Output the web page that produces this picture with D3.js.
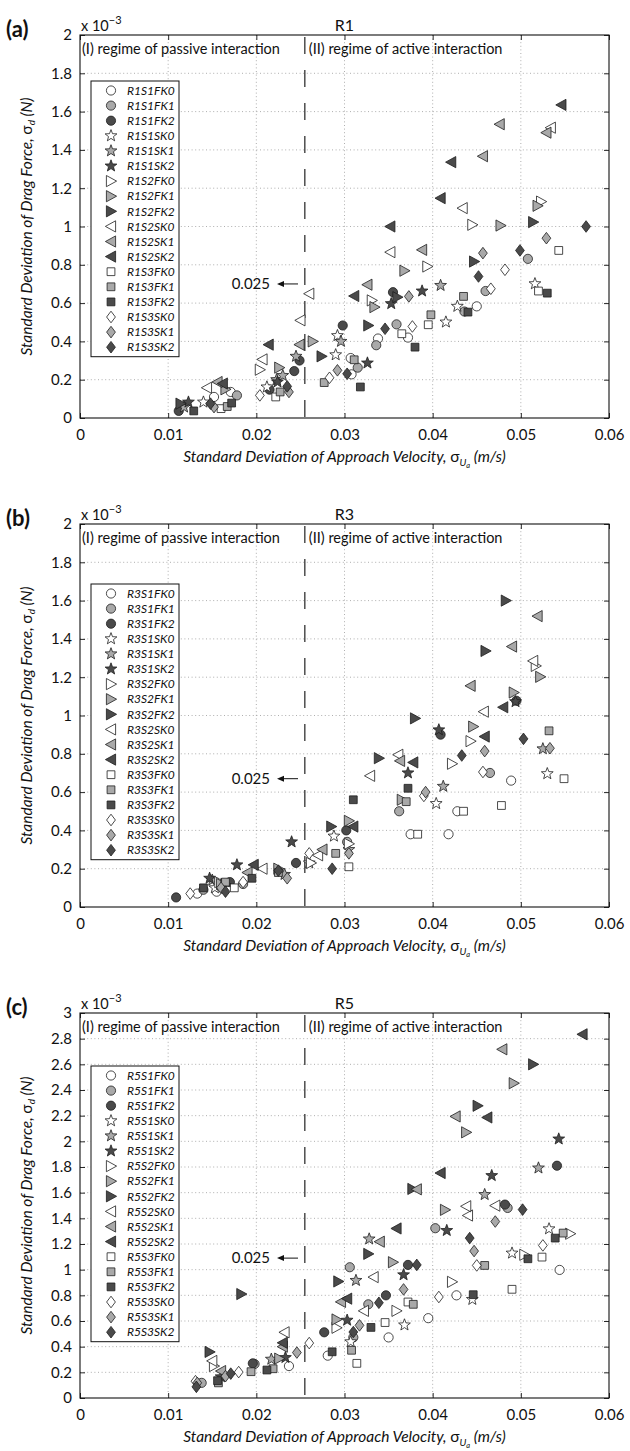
<!DOCTYPE html>
<html><head><meta charset="utf-8">
<script src="https://cdn.jsdelivr.net/npm/d3@7"></script>
<style>body{margin:0;background:#fff}svg{display:block}</style>
</head><body>
<svg id="chart" width="630" height="1451"></svg>
<script>
// ---------- axis ticks ----------
const xTickValues = [0, 0.01, 0.02, 0.03, 0.04, 0.05, 0.06];
const xTickLabels = ["0", "0.01", "0.02", "0.03", "0.04", "0.05", "0.06"];
const yTickValuesAB = [0, 0.2, 0.4, 0.6, 0.8, 1, 1.2, 1.4, 1.6, 1.8, 2];
const yTickLabelsAB = ["0", "0.2", "0.4", "0.6", "0.8", "1", "1.2", "1.4", "1.6", "1.8", "2"];
const yTickValuesC = [0, 0.2, 0.4, 0.6, 0.8, 1, 1.2, 1.4, 1.6, 1.8, 2, 2.2, 2.4, 2.6, 2.8, 3];
const yTickLabelsC = ["0", "0.2", "0.4", "0.6", "0.8", "1", "1.2", "1.4", "1.6", "1.8", "2", "2.2", "2.4", "2.6", "2.8", "3"];
const seriesNames = ["S1FK0","S1FK1","S1FK2","S1SK0","S1SK1","S1SK2","S2FK0","S2FK1","S2FK2","S2SK0","S2SK1","S2SK2","S3FK0","S3FK1","S3FK2","S3SK0","S3SK1","S3SK2"];
const runs = ["R1", "R3", "R5"];
const panelLetters = ["(a)", "(b)", "(c)"];
const thresholdVelocity = 0.0255;
const thresholdLabel = "0.025";
const annotationY = [0.70, 0.67, 1.09];

// ---------- data: [sigma_Ua (m/s), sigma_d (x1e-3 N)] ----------
// R1
const R1S1FK0 = [[0.0152,0.11],[0.0171,0.136],[0.0307,0.313],[0.0308,0.228],[0.0338,0.415],[0.0372,0.42],[0.0450,0.583]];
const R1S1FK1 = [[0.0178,0.118],[0.0315,0.263],[0.0336,0.38],[0.0359,0.489],[0.0436,0.556],[0.0460,0.663],[0.0508,0.831]];
const R1S1FK2 = [[0.0112,0.037],[0.0215,0.148],[0.0243,0.245],[0.0249,0.300],[0.0298,0.483],[0.0355,0.657]];
const R1S1SK0 = [[0.0140,0.083],[0.0212,0.162],[0.0290,0.33],[0.0292,0.43],[0.0415,0.501],[0.0428,0.583],[0.0516,0.701]];
const R1S1SK1 = [[0.0118,0.057],[0.0223,0.20],[0.0230,0.222],[0.0245,0.322],[0.0296,0.40],[0.0409,0.692]];
const R1S1SK2 = [[0.0123,0.083],[0.0224,0.188],[0.0326,0.287],[0.0353,0.597],[0.0388,0.663]];
const R1S2FK0 = [[0.0204,0.252],[0.0331,0.614],[0.0394,0.791],[0.0445,1.009],[0.0523,1.13]];
const R1S2FK1 = [[0.0165,0.15],[0.0226,0.263],[0.0264,0.40],[0.0334,0.579],[0.0368,0.769],[0.0477,1.005],[0.0519,1.108]];
const R1S2FK2 = [[0.0114,0.075],[0.0274,0.322],[0.0327,0.483],[0.0360,0.631],[0.0447,0.817],[0.0514,1.023]];
const R1S2SK0 = [[0.0144,0.158],[0.0207,0.306],[0.0250,0.51],[0.0260,0.649],[0.0352,0.866],[0.0434,1.096],[0.0534,1.516]];
const R1S2SK1 = [[0.0156,0.188],[0.0249,0.383],[0.0326,0.696],[0.0388,0.878],[0.0457,1.367],[0.0476,1.534],[0.0529,1.49]];
const R1S2SK2 = [[0.0162,0.18],[0.0214,0.383],[0.0311,0.637],[0.0352,1.0],[0.0409,1.148],[0.0421,1.336],[0.0546,1.635]];
const R1S3FK0 = [[0.0160,0.049],[0.0222,0.11],[0.0365,0.44],[0.0395,0.487],[0.0520,0.663],[0.0543,0.875]];
const R1S3FK1 = [[0.0167,0.06],[0.0227,0.136],[0.0277,0.185],[0.0311,0.304],[0.0398,0.539],[0.0435,0.635]];
const R1S3FK2 = [[0.0129,0.037],[0.0172,0.078],[0.0318,0.162],[0.0380,0.37],[0.0440,0.553],[0.0530,0.652]];
const R1S3SK0 = [[0.0204,0.118],[0.0283,0.21],[0.0377,0.478],[0.0466,0.675],[0.0482,0.774]];
const R1S3SK1 = [[0.0152,0.057],[0.0237,0.136],[0.0292,0.249],[0.0373,0.635],[0.0457,0.861],[0.0529,0.939]];
const R1S3SK2 = [[0.0148,0.075],[0.0235,0.165],[0.0303,0.231],[0.0346,0.466],[0.0452,0.739],[0.0499,0.875],[0.0574,1.0]];
// R3
const R3S1FK0 = [[0.0133,0.07],[0.0155,0.08],[0.0375,0.38],[0.0418,0.38],[0.0428,0.50],[0.0489,0.66]];
const R3S1FK1 = [[0.0140,0.09],[0.0185,0.12],[0.0303,0.34],[0.0362,0.50],[0.0465,0.70]];
const R3S1FK2 = [[0.0109,0.05],[0.0170,0.13],[0.0245,0.23],[0.0302,0.40],[0.0409,0.90],[0.0495,1.077]];
const R3S1SK0 = [[0.0153,0.10],[0.0260,0.23],[0.0288,0.37],[0.0404,0.54],[0.0530,0.696]];
const R3S1SK1 = [[0.0150,0.14],[0.0232,0.17],[0.0305,0.30],[0.0412,0.63],[0.0525,0.826]];
const R3S1SK2 = [[0.0147,0.15],[0.0178,0.22],[0.0240,0.34],[0.0372,0.70],[0.0407,0.925],[0.0494,1.072]];
const R3S2FK0 = [[0.0158,0.13],[0.0262,0.23],[0.0305,0.33],[0.0422,0.748],[0.0443,0.866],[0.0517,1.259]];
const R3S2FK1 = [[0.0160,0.12],[0.0225,0.20],[0.0305,0.45],[0.0365,0.56],[0.0446,0.942],[0.0492,1.12],[0.0522,1.202]];
const R3S2FK2 = [[0.0165,0.12],[0.0285,0.42],[0.0339,0.777],[0.0380,0.985],[0.0460,1.337],[0.0483,1.60]];
const R3S2SK0 = [[0.0207,0.20],[0.0270,0.27],[0.0329,0.685],[0.0361,0.795],[0.0458,1.02],[0.0514,1.285]];
const R3S2SK1 = [[0.0190,0.18],[0.0275,0.30],[0.0363,0.763],[0.0443,1.155],[0.0490,1.36],[0.0519,1.519]];
const R3S2SK2 = [[0.0197,0.22],[0.0310,0.42],[0.0378,0.755],[0.0459,0.89],[0.0480,1.043]];
const R3S3FK0 = [[0.0175,0.10],[0.0305,0.21],[0.0383,0.38],[0.0435,0.50],[0.0478,0.53],[0.0549,0.67]];
const R3S3FK1 = [[0.0165,0.13],[0.0225,0.18],[0.0290,0.28],[0.0370,0.55],[0.0532,0.92]];
const R3S3FK2 = [[0.0140,0.10],[0.0195,0.15],[0.0310,0.56],[0.0372,0.62]];
const R3S3SK0 = [[0.0125,0.07],[0.0185,0.13],[0.0260,0.28],[0.0390,0.58],[0.0457,0.705]];
const R3S3SK1 = [[0.0160,0.10],[0.0235,0.15],[0.0305,0.28],[0.0392,0.60],[0.0459,0.814],[0.0533,0.829]];
const R3S3SK2 = [[0.0165,0.08],[0.0225,0.19],[0.0286,0.20],[0.0433,0.791],[0.0503,0.878]];
// R5
const R5S1FK0 = [[0.0237,0.249],[0.0281,0.33],[0.0350,0.472],[0.0395,0.622],[0.0427,0.80],[0.0544,0.998]];
const R5S1FK1 = [[0.0138,0.118],[0.0198,0.265],[0.0310,0.472],[0.0327,0.73],[0.0306,1.019],[0.0403,1.323],[0.0485,1.481]];
const R5S1FK2 = [[0.0196,0.27],[0.0277,0.512],[0.0347,0.80],[0.0372,1.037],[0.0482,1.507],[0.0541,1.81]];
const R5S1SK0 = [[0.0307,0.438],[0.0368,0.569],[0.0445,0.768],[0.0490,1.129],[0.0532,1.318]];
const R5S1SK1 = [[0.0217,0.302],[0.0313,0.916],[0.0328,1.239],[0.0459,1.585],[0.0520,1.792]];
const R5S1SK2 = [[0.0160,0.165],[0.0233,0.315],[0.0303,0.606],[0.0367,0.96],[0.0416,1.305],[0.0467,1.733],[0.0543,2.018]];
const R5S2FK0 = [[0.0152,0.249],[0.0291,0.547],[0.0359,0.679],[0.0422,0.905],[0.0504,1.116],[0.0556,1.28]];
const R5S2FK1 = [[0.0226,0.307],[0.0291,0.612],[0.0355,1.058],[0.0414,1.466],[0.0438,2.07],[0.0492,2.453]];
const R5S2FK2 = [[0.0147,0.359],[0.0183,0.81],[0.0293,0.908],[0.0327,1.123],[0.0377,1.629],[0.0451,2.277],[0.0514,2.60]];
const R5S2SK0 = [[0.0150,0.289],[0.0232,0.512],[0.0322,0.679],[0.0333,0.942],[0.0440,1.422],[0.0438,1.494],[0.0471,1.499]];
const R5S2SK1 = [[0.0160,0.21],[0.0230,0.40],[0.0296,0.749],[0.0340,1.218],[0.0382,1.626],[0.0426,2.194],[0.0479,2.717]];
const R5S2SK2 = [[0.0230,0.43],[0.0303,0.774],[0.0359,1.321],[0.0409,1.753],[0.0462,2.186],[0.0570,2.834]];
const R5S3FK0 = [[0.0314,0.27],[0.0346,0.588],[0.0372,0.748],[0.0490,0.847],[0.0524,1.098]];
const R5S3FK1 = [[0.0157,0.118],[0.0194,0.205],[0.0219,0.228],[0.0308,0.372],[0.0378,0.73],[0.0459,1.033],[0.0548,1.285]];
const R5S3FK2 = [[0.0156,0.135],[0.0212,0.218],[0.0286,0.36],[0.0330,0.55],[0.0446,0.805],[0.0508,1.085],[0.0539,1.246]];
const R5S3SK0 = [[0.0131,0.131],[0.0180,0.202],[0.0260,0.428],[0.0407,0.787],[0.0450,1.033],[0.0525,1.189]];
const R5S3SK1 = [[0.0133,0.118],[0.0165,0.17],[0.0246,0.354],[0.0317,0.566],[0.0367,0.846],[0.0447,1.145],[0.0471,1.375]];
const R5S3SK2 = [[0.0132,0.087],[0.0171,0.19],[0.0310,0.514],[0.0339,0.742],[0.0382,1.037],[0.0442,1.246],[0.0502,1.468]];

const runData = {
  R1: [R1S1FK0,R1S1FK1,R1S1FK2,R1S1SK0,R1S1SK1,R1S1SK2,R1S2FK0,R1S2FK1,R1S2FK2,R1S2SK0,R1S2SK1,R1S2SK2,R1S3FK0,R1S3FK1,R1S3FK2,R1S3SK0,R1S3SK1,R1S3SK2],
  R3: [R3S1FK0,R3S1FK1,R3S1FK2,R3S1SK0,R3S1SK1,R3S1SK2,R3S2FK0,R3S2FK1,R3S2FK2,R3S2SK0,R3S2SK1,R3S2SK2,R3S3FK0,R3S3FK1,R3S3FK2,R3S3SK0,R3S3SK1,R3S3SK2],
  R5: [R5S1FK0,R5S1FK1,R5S1FK2,R5S1SK0,R5S1SK1,R5S1SK2,R5S2FK0,R5S2FK1,R5S2FK2,R5S2SK0,R5S2SK1,R5S2SK2,R5S3FK0,R5S3FK1,R5S3FK2,R5S3SK0,R5S3SK1,R5S3SK2]
};

// ---------- styling ----------
const FONT = "Lato, 'Open Sans', sans-serif";
const fills = {K0: "#ffffff", K1: "#a9a9a9", K2: "#4a4a4a"};
const strokeCol = "#1e1e1e";
function starPath(R, r) {
  let p = "";
  for (let k = 0; k < 10; k++) {
    const rad = k % 2 === 0 ? R : r;
    const a = -Math.PI / 2 + k * Math.PI / 5;
    p += (k === 0 ? "M" : "L") + (rad * Math.cos(a)).toFixed(2) + "," + (rad * Math.sin(a)).toFixed(2);
  }
  return p + "Z";
}
function shapePath(name) {
  const s = name.slice(0, 2), t = name[2];
  if (s === "S1" && t === "F") { const r = 4.6; return `M${r},0A${r},${r} 0 1,1 ${-r},0A${r},${r} 0 1,1 ${r},0Z`; }
  if (s === "S1" && t === "S") return starPath(6.2, 2.6);
  if (s === "S2" && t === "F") return "M5.6,0L-4.6,-5.6L-4.6,5.6Z";
  if (s === "S2" && t === "S") return "M-5.6,0L4.6,-5.6L4.6,5.6Z";
  if (s === "S3" && t === "F") return "M-3.9,-3.9H3.9V3.9H-3.9Z";
  return "M0,-5.8L4.4,0L0,5.8L-4.4,0Z";
}
function fillOf(name) { return fills[name.slice(3)]; }

// ---------- layout ----------
const X0 = 80, X1 = 609;
const tops = [35, 524, 1013];
const heights = [383, 383, 385];
const svg = d3.select("#chart");
svg.append("rect").attr("width", 630).attr("height", 1451).attr("fill", "#fff");

runs.forEach((run, i) => {
  const top = tops[i], bot = top + heights[i];
  const isC = i === 2;
  const yVals = isC ? yTickValuesC : yTickValuesAB;
  const yLabs = isC ? yTickLabelsC : yTickLabelsAB;
  const yMax = yVals[yVals.length - 1];
  const x = d3.scaleLinear().domain([0, 0.06]).range([X0, X1]);
  const y = d3.scaleLinear().domain([0, yMax]).range([bot, top]);
  const g = svg.append("g");

  // grid
  g.append("g").selectAll("line").data(xTickValues.slice(1, -1)).join("line")
    .attr("x1", d => x(d)).attr("x2", d => x(d)).attr("y1", top).attr("y2", bot)
    .attr("stroke", "#8c8c8c").attr("stroke-width", 0.7).attr("stroke-dasharray", "1,2.6");
  g.append("g").selectAll("line").data(yVals.slice(1, -1)).join("line")
    .attr("x1", X0).attr("x2", X1).attr("y1", d => y(d)).attr("y2", d => y(d))
    .attr("stroke", "#8c8c8c").attr("stroke-width", 0.7).attr("stroke-dasharray", "1,2.6");

  // axes
  const fx = (d) => xTickLabels[xTickValues.indexOf(d)];
  const fy = (d) => yLabs[yVals.indexOf(d)];
  const axB = g.append("g").attr("transform", `translate(0,${bot})`)
    .call(d3.axisBottom(x).tickValues(xTickValues).tickFormat(fx).tickSize(-5).tickSizeOuter(0).tickPadding(11));
  const axT = g.append("g").attr("transform", `translate(0,${top})`)
    .call(d3.axisTop(x).tickValues(xTickValues).tickFormat("").tickSize(-5).tickSizeOuter(0));
  const axL = g.append("g").attr("transform", `translate(${X0},0)`)
    .call(d3.axisLeft(y).tickValues(yVals).tickFormat(fy).tickSize(-5).tickSizeOuter(0).tickPadding(8));
  const axR = g.append("g").attr("transform", `translate(${X1},0)`)
    .call(d3.axisRight(y).tickValues(yVals).tickFormat("").tickSize(-5).tickSizeOuter(0));
  [axB, axT, axL, axR].forEach(a => {
    a.select(".domain").remove();
    a.selectAll(".tick line").attr("stroke", "#111").attr("stroke-width", 0.9);
    a.selectAll(".tick text").attr("font-family", FONT).attr("font-size", 15).attr("fill", "#111");
  });
  g.append("rect").attr("x", X0).attr("y", top).attr("width", X1 - X0).attr("height", bot - top)
    .attr("fill", "none").attr("stroke", "#111").attr("stroke-width", 1.1);

  // threshold dashed line
  g.append("line").attr("x1", x(thresholdVelocity)).attr("x2", x(thresholdVelocity))
    .attr("y1", top).attr("y2", bot).attr("stroke", "#333").attr("stroke-width", 1.3)
    .attr("stroke-dasharray", "17,16").attr("stroke-dashoffset", -2);

  // regime texts
  g.append("text").attr("x", X0 + 2).attr("y", top + 19).attr("font-family", FONT).attr("font-size", 14.5)
    .attr("fill", "#111").text("(I) regime of passive interaction");
  g.append("text").attr("x", x(thresholdVelocity) + 4).attr("y", top + 19).attr("font-family", FONT).attr("font-size", 14.5)
    .attr("fill", "#111").text("(II) regime of active interaction");

  // annotation 0.025 <-
  const ay = y(annotationY[i]);
  g.append("text").attr("x", 270).attr("y", ay + 5).attr("text-anchor", "end").attr("font-family", FONT)
    .attr("font-size", 15).attr("fill", "#111").text(thresholdLabel);
  g.append("line").attr("x1", 298).attr("x2", 279).attr("y1", ay).attr("y2", ay).attr("stroke", "#111").attr("stroke-width", 1);
  g.append("path").attr("d", `M${277},${ay}L${284},${ay - 3}L${284},${ay + 3}Z`).attr("fill", "#111");

  // data markers
  const data = runData[run];
  seriesNames.forEach((name, si) => {
    g.append("g").selectAll("path").data(data[si]).join("path")
      .attr("d", shapePath(name))
      .attr("transform", d => `translate(${x(d[0])},${y(d[1])})`)
      .attr("fill", fillOf(name)).attr("stroke", strokeCol).attr("stroke-width", 0.8);
  });

  // legend
  const legTops = [81, 584, 1066];
  const lt = legTops[i], step = 15.1;
  const leg = g.append("g");
  leg.append("rect").attr("x", 91).attr("y", lt).attr("width", 88).attr("height", 17 * step + 19)
    .attr("fill", "#fff").attr("stroke", "#111").attr("stroke-width", 1);
  seriesNames.forEach((name, si) => {
    const cy = lt + 9.5 + si * step;
    leg.append("path").attr("d", shapePath(name)).attr("transform", `translate(111,${cy})`)
      .attr("fill", fillOf(name)).attr("stroke", strokeCol).attr("stroke-width", 0.8);
    leg.append("text").attr("x", 127).attr("y", cy + 4.2).attr("font-family", FONT).attr("font-style", "italic")
      .attr("font-size", 12).attr("fill", "#111").text(run + name);
  });

  // titles and labels
  svg.append("text").attr("x", 6).attr("y", top + 2).attr("font-family", FONT).attr("font-weight", "bold")
    .attr("font-size", 22).attr("fill", "#111").text(panelLetters[i]);
  const mult = svg.append("text").attr("x", X0 + 1).attr("y", top - 4).attr("font-family", FONT)
    .attr("font-size", 14.5).attr("fill", "#111");
  mult.append("tspan").text("x 10");
  mult.append("tspan").attr("dy", -7).attr("font-size", 11).text("\u22123");
  svg.append("text").attr("x", (X0 + X1) / 2).attr("y", top - 4).attr("text-anchor", "middle")
    .attr("font-family", FONT).attr("font-size", 16).attr("fill", "#111").text(run);

  const yl = svg.append("text").attr("transform", `translate(32,${(top + bot) / 2}) rotate(-90)`)
    .attr("text-anchor", "middle").attr("font-family", FONT).attr("font-size", 15.5).attr("fill", "#111");
  yl.append("tspan").attr("font-style", "italic").text("Standard Deviation of Drag Force, ");
  yl.append("tspan").text("\u03c3");
  yl.append("tspan").attr("font-size", 10).attr("dy", 3).attr("font-style", "italic").text("d");
  yl.append("tspan").attr("dy", -3).attr("font-style", "italic").text(" (N)");

  const xl = svg.append("text").attr("x", (X0 + X1) / 2).attr("y", bot + 44).attr("text-anchor", "middle")
    .attr("font-family", FONT).attr("font-size", 15.5).attr("fill", "#111");
  xl.append("tspan").attr("font-style", "italic").text("Standard Deviation of Approach Velocity, ");
  xl.append("tspan").text("\u03c3");
  xl.append("tspan").attr("font-size", 10).attr("dy", 4).attr("font-style", "italic").text("U");
  xl.append("tspan").attr("font-size", 7.5).attr("dy", 2).attr("font-style", "italic").text("a");
  xl.append("tspan").attr("dy", -6).attr("font-style", "italic").text(" (m/s)");
});
</script>
</body></html>
